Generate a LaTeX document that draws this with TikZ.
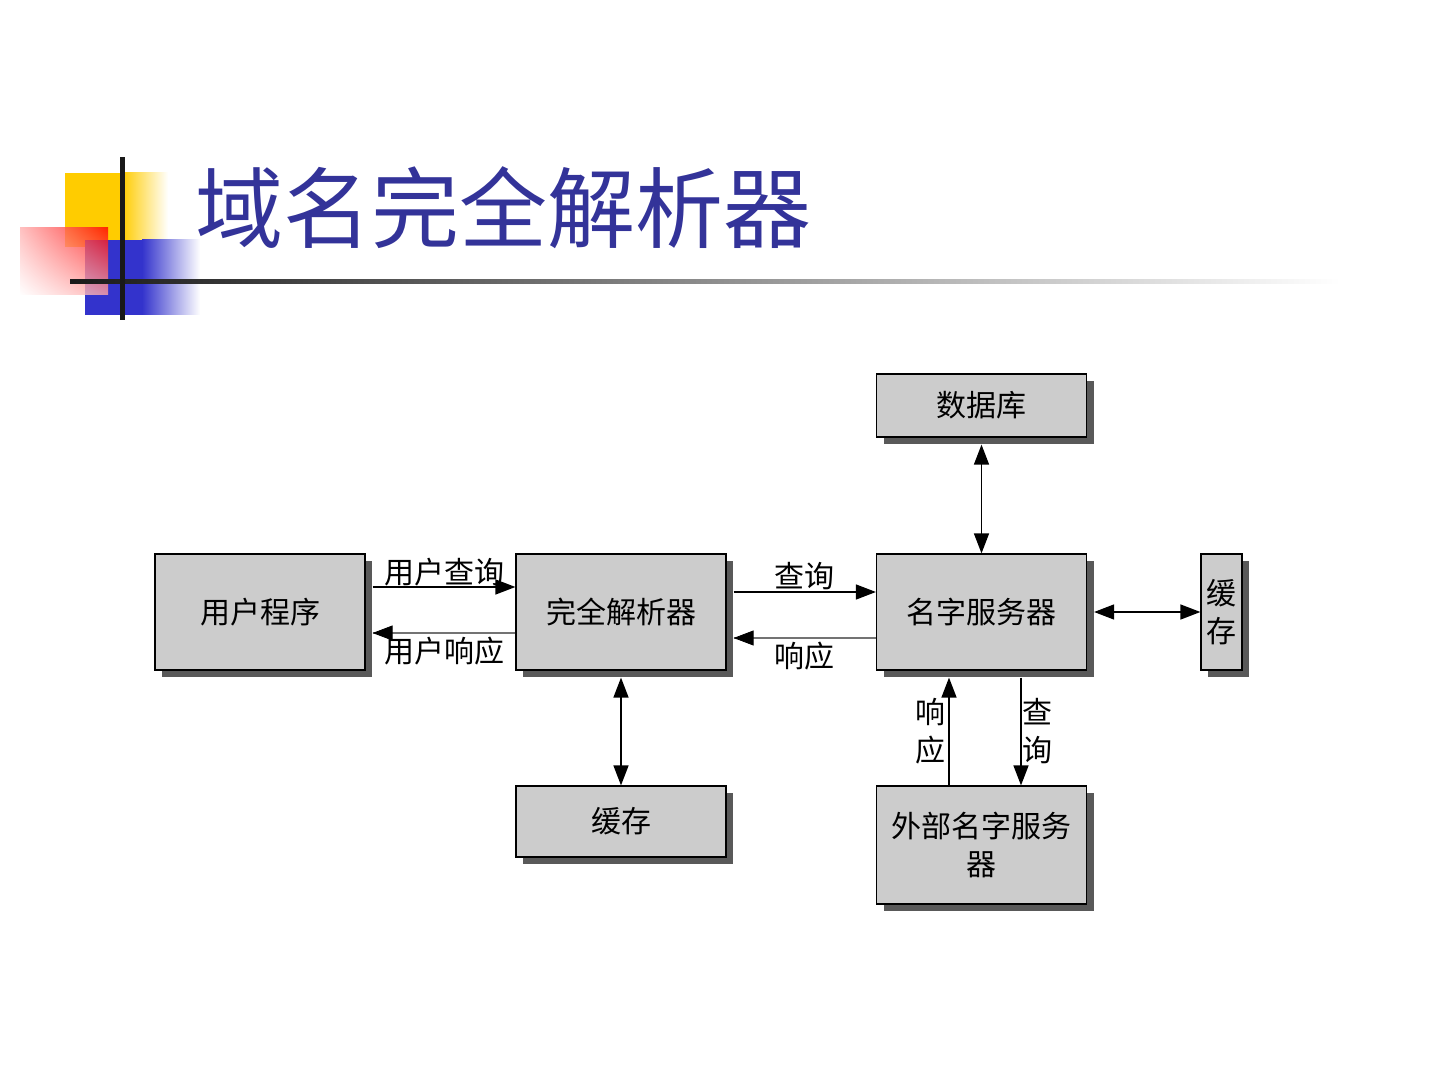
\documentclass[tikz,border=0pt]{standalone}
\usepackage{fontspec}
\setmainfont{Noto Sans CJK SC}
\usetikzlibrary{arrows.meta,shadows,shadings}
\definecolor{boxgray}{RGB}{204,204,204}
\definecolor{titleblue}{RGB}{51,51,153}
\definecolor{logoyellow}{RGB}{255,204,0}
\definecolor{logoblue}{RGB}{51,51,204}

\begin{document}
\begin{tikzpicture}[x=0.5pt,y=-0.5pt,
    box/.style={draw=black, line width=0.6pt, fill=boxgray,
      general shadow={fill=black!65, shadow xshift=3.5pt, shadow yshift=-3.5pt},
      minimum width=105pt, minimum height=58pt, inner sep=0pt, align=center,
      font=\fontsize{15}{19}\selectfont},
    link/.style={line width=0.7pt},
    back/.style={line width=0.7pt, draw=black!55},
    lbl/.style={font=\fontsize{15}{19}\selectfont, inner sep=1.5pt, align=center},
    >={Triangle[length=10pt,width=7.5pt]}]
  \fill[white] (0,0) rectangle (1440,1080);

  \fill[logoyellow] (65,173) rectangle (122,247);
  \shade[left color=logoyellow, right color=white] (122,173) rectangle (168,247);
  \fill[logoblue] (85,240) rectangle (142,315);
  \shade[left color=logoblue, right color=white] (142,240) rectangle (200,315);
  \shade[upper right=red, upper left=red!30, lower right=red!35, lower left=white, opacity=0.8] (20,228) rectangle (108,295);
  \shade[left color=black!90, right color=white] (70,280) rectangle (1340,284);
  \fill[black!90] (120,157) rectangle (125,320);
  \node[text=titleblue, font=\fontsize{44}{50}\selectfont, inner sep=0pt] (title) at (503,208) {域名完全解析器};

  \node[box] (user) at (260,612) {用户程序};
  \node[box] (resolver) at (621,612) {完全解析器};
  \node[box] (server) at (981.5,612) {名字服务器};
  \node[box, minimum height=31.5pt] (db) at (981.5,405.5) {数据库};
  \node[box, minimum width=20.5pt] (cacheR) at (1221.5,612) {缓\\存};
  \node[box, minimum height=35.5pt] (cacheB) at (621,821.5) {缓存};
  \node[box, minimum height=59pt] (ext) at (981.5,845) {外部名字服务\\器};

  \draw[link,->] ([xshift=3.5pt,yshift=12.5pt]user.east) -- ([yshift=12.5pt]resolver.west)
    node[lbl, midway, above, inner sep=0pt] {用户查询};
  \draw[back] ([yshift=-10.5pt]resolver.west) -- ([xshift=3.5pt,yshift=-10.5pt]user.east)
    node[lbl, midway, below] {用户响应};
  \draw[->] ([xshift=12pt,yshift=-10.5pt]user.east) -- ([xshift=3.5pt,yshift=-10.5pt]user.east);
  \draw[link,->] ([xshift=3.5pt,yshift=10pt]resolver.east) -- ([yshift=10pt]server.west)
    node[lbl, midway, above, inner sep=0.5pt] {查询};
  \draw[back] ([yshift=-13pt]server.west) -- ([xshift=3.5pt,yshift=-13pt]resolver.east)
    node[lbl, midway, below] {响应};
  \draw[->] ([xshift=12pt,yshift=-13pt]resolver.east) -- ([xshift=3.5pt,yshift=-13pt]resolver.east);
  \draw[link,<->] ([yshift=-3.5pt]db.south) -- (server.north);
  \draw[link,<->] ([xshift=3.5pt]server.east) -- (cacheR.west);
  \draw[link,<->] ([yshift=-3.5pt]resolver.south) -- (cacheB.north);
  \draw[link,->] ([xshift=-16.25pt]ext.north) -- ([xshift=-16.25pt,yshift=-3.5pt]server.south)
    node[lbl, midway, left] {响\\应};
  \draw[link,->] ([xshift=19.75pt,yshift=-3.5pt]server.south) -- ([xshift=19.75pt]ext.north)
    node[lbl, midway, right, inner sep=0.5pt] {查\\询};
\end{tikzpicture}
\end{document}
